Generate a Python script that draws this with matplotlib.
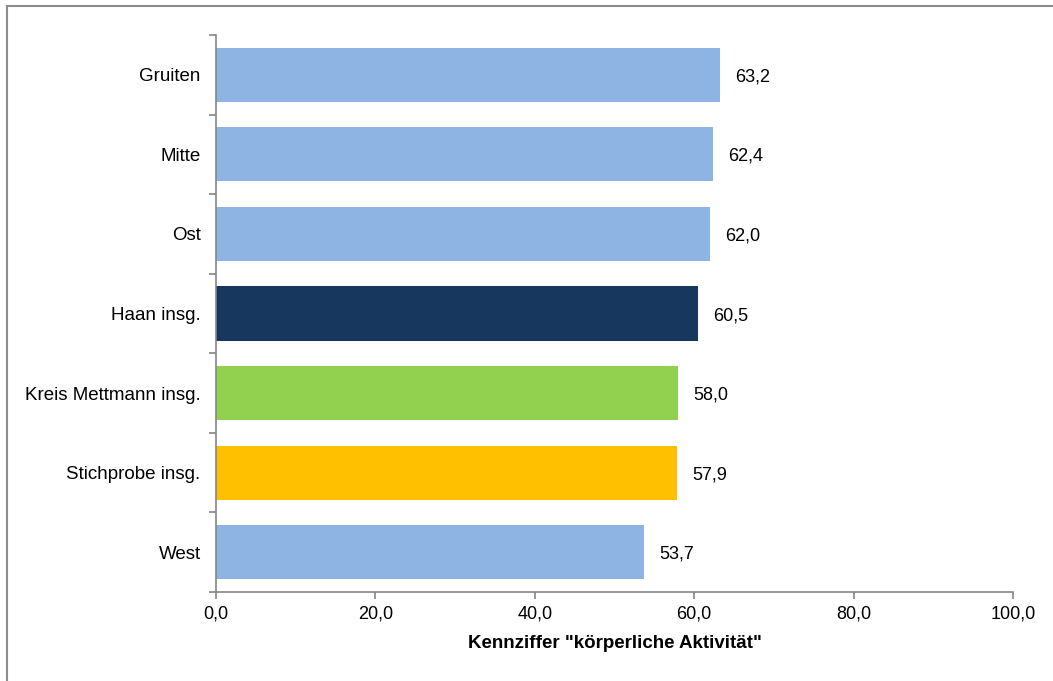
import matplotlib.pyplot as plt
from matplotlib.patches import Rectangle

plt.rcParams['font.family'] = ['Liberation Sans', 'DejaVu Sans']

# Daten
kategorien = ['Gruiten', 'Mitte', 'Ost', 'Haan insg.', 'Kreis Mettmann insg.',
              'Stichprobe insg.', 'West']
werte = [63.2, 62.4, 62.0, 60.5, 58.0, 57.9, 53.7]
farben = ['#8EB4E3', '#8EB4E3', '#8EB4E3', '#17375E', '#92D050', '#FFC000', '#8EB4E3']
xticks = [0, 20, 40, 60, 80, 100]

fig = plt.figure(figsize=(10.53, 6.81), dpi=100)
ax = fig.add_axes([216 / 1053, 1 - 592 / 681, (1013 - 216) / 1053, (592 - 35) / 681])

# Rahmen um die Grafik
fig.patches.append(Rectangle((7 / 1053, -0.1), 1.2, 1 - 6 / 681 + 0.1,
                             transform=fig.transFigure, fill=False,
                             edgecolor='#8c8c8c', linewidth=1.5))

pos = list(range(len(kategorien)))
ax.barh(pos, werte, height=0.68, color=farben)
for p, w in zip(pos, werte):
    ax.annotate(('%.1f' % w).replace('.', ','), (w, p), xytext=(11, -1.5),
                textcoords='offset points', ha='left', va='center', fontsize=13)

ax.set_xlim(0, 100)
ax.set_ylim(len(kategorien) - 0.5, -0.5)

ax.set_xticks(xticks)
ax.set_xticklabels([('%.1f' % t).replace('.', ',') for t in xticks], fontsize=13)
ax.set_yticks([i - 0.5 for i in range(len(kategorien) + 1)])
ax.set_yticklabels([])
ax.set_yticks(pos, minor=True)
ax.set_yticklabels(kategorien, minor=True, fontsize=13.5)
ax.tick_params(axis='y', which='minor', length=0, pad=11)
ax.tick_params(axis='y', which='major', length=5, color='#868686', width=1.2)
ax.tick_params(axis='x', length=5, color='#868686', width=1.2, pad=5)

for s in ['top', 'right']:
    ax.spines[s].set_visible(False)
for s in ['left', 'bottom']:
    ax.spines[s].set_color('#868686')
    ax.spines[s].set_linewidth(1.2)

ax.set_xlabel('Kennziffer "körperliche Aktivität"', fontsize=13.5, fontweight='bold', labelpad=9)

fig.savefig('out.png', dpi=100)
